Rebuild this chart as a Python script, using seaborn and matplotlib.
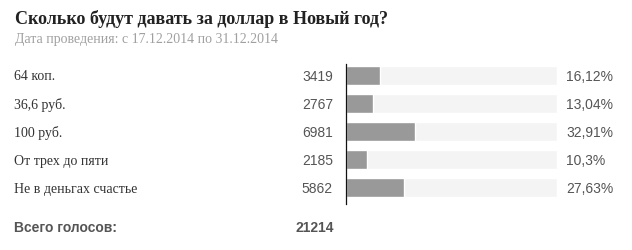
import matplotlib
matplotlib.use("Agg")
import matplotlib.pyplot as plt
import seaborn as sns
import pandas as pd

title = "Сколько будут давать за доллар в Новый год?"
subtitle = "Дата проведения: с 17.12.2014 по 31.12.2014"
categories = ["64 коп.", "36,6 руб.", "100 руб.", "От трех до пяти", "Не в деньгах счастье"]
votes = [3419, 2767, 6981, 2185, 5862]
percents = [16.12, 13.04, 32.91, 10.3, 27.63]
percent_labels = ["16,12%", "13,04%", "32,91%", "10,3%", "27,63%"]
total_label = "Всего голосов:"
total_votes = 21214

sns.set_theme(style="white")
plt.rcParams["font.family"] = ["Liberation Serif", "DejaVu Sans"]

W, H = 632, 250
fig = plt.figure(figsize=(W / 100, H / 100), dpi=100)

ax_left, ax_right = 345.5, 556.5
ax_top, ax_bottom = 64, 204
ax = fig.add_axes([ax_left / W, (H - ax_bottom) / H, (ax_right - ax_left) / W, (ax_bottom - ax_top) / H])
df = pd.DataFrame({"cat": categories, "pct": percents, "full": [100] * len(categories)})
sns.barplot(data=df, y="cat", x="full", color="#f4f4f4", width=0.68, ax=ax, saturation=1)
sns.barplot(data=df, y="cat", x="pct", color="#999999", width=0.68, ax=ax, saturation=1)
ax.set_xlim(0, 100)
ax.set_ylim(4.59, -0.41)
ax.set_xlabel("")
ax.set_ylabel("")
ax.set_xticks([])
ax.set_yticks([])
for s in ["top", "right", "bottom"]:
    ax.spines[s].set_visible(False)
ax.spines["left"].set_color("#111111")
ax.spines["left"].set_linewidth(0.9)

def fy(py):
    return 1 - py / H

fig.text(15 / W, fy(19.5), title, fontsize=13.0, fontweight="bold", color="#222222",
         family=["Liberation Serif"], va="center", ha="left")
fig.text(15 / W, fy(40), subtitle, fontsize=10.0, color="#a0a0a0",
         family=["Liberation Serif"], va="center", ha="left")

row_y = [77, 105, 133, 161, 189]
for i, c in enumerate(categories):
    fig.text(14 / W, fy(row_y[i]), c, fontsize=10.0, color="#333333",
             family=["Liberation Serif"], va="center", ha="left")
    fig.text(333 / W, fy(row_y[i]), str(votes[i]), fontsize=10.0, color="#555555",
             family=["Liberation Sans"], va="center", ha="right")
    fig.text(566 / W, fy(row_y[i]), percent_labels[i], fontsize=10.0, color="#555555",
             family=["Liberation Sans"], va="center", ha="left")

fig.text(14 / W, fy(227.5), total_label, fontsize=10.0, fontweight="bold", color="#555555",
         family=["Liberation Sans"], va="center", ha="left")
fig.text(334 / W, fy(227.5), str(total_votes), fontsize=10.0, fontweight="bold", color="#555555",
         family=["Liberation Sans"], va="center", ha="right")

fig.savefig("out.png", dpi=100, facecolor="white")
